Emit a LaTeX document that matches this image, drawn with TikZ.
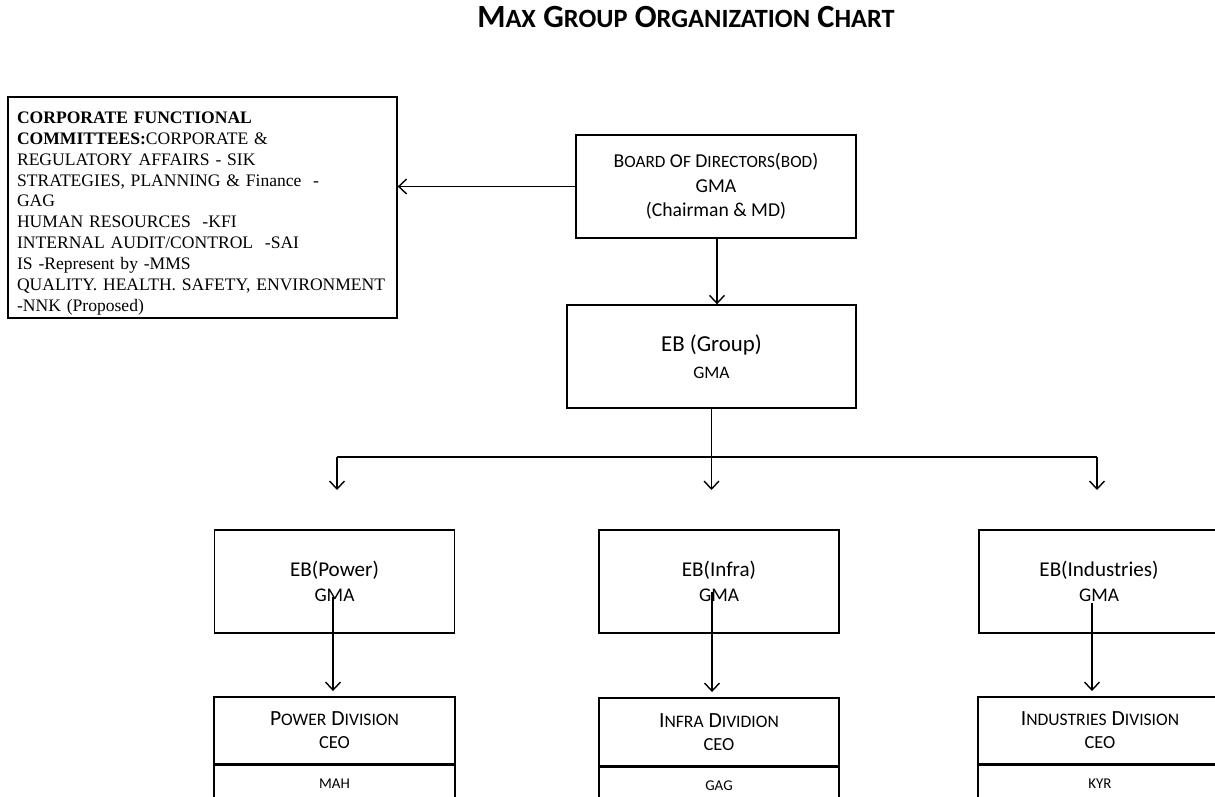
\documentclass[tikz,border=0pt]{standalone}
\usepackage{fontspec}
\setmainfont{Carlito}
\newfontfamily\tnr{Liberation Serif}
\usetikzlibrary{arrows.meta}
\newcommand\smc[2]{{\fontsize{#1}{#1}\selectfont #2}}
\begin{document}
\begin{tikzpicture}[x=0.02cm,y=-0.02cm,
  box/.style={draw,line width=0.8pt,inner sep=0pt,align=center},
  arr/.style={line width=0.8pt,-{Straight Barb[length=4.5pt,width=8.5pt,line width=0.8pt]}},
  ln/.style={line width=0.8pt},
  ebbox/.style={box,minimum width=4.8cm,minimum height=2.06cm,font=\fontsize{12}{14.2}\selectfont},
  divbox/.style={box,minimum width=4.8cm,minimum height=1.34cm,font=\fontsize{12.3}{13}\selectfont},
  namebox/.style={box,minimum width=4.8cm,minimum height=0.72cm,font=\fontsize{8.5}{10}\selectfont}]
\useasboundingbox (0,0) rectangle (1215,797);

% title
\node (title) at (686,17) {\fontsize{18.4}{21}\selectfont\bfseries M\smc{15}{AX} G\smc{15}{ROUP} O\smc{15}{RGANIZATION} C\smc{15}{HART}};

% committees
\node[box,minimum width=7.78cm,minimum height=4.42cm,align=left,text width=7.42cm,
  font={\tnr\fontsize{10}{11.9}\selectfont}] (com) at (202.5,207.5)
 {\rule{0pt}{13.4pt}\textbf{CORPORATE FUNCTIONAL}\\
  \textbf{COMMITTEES:}CORPORATE \&\\
  REGULATORY AFFAIRS - SIK\\
  STRATEGIES, PLANNING \& Finance\ \ -\\
  GAG\\
  HUMAN RESOURCES\ \ -KFI\\
  INTERNAL AUDIT/CONTROL\ \ -SAI\\
  IS -Represent by -MMS\\
  QUALITY. HEALTH. SAFETY, ENVIRONMENT\\
  -NNK (Proposed)};

% board
\node[box,minimum width=5.6cm,minimum height=2.06cm,font=\fontsize{11.2}{14}\selectfont] (bod) at (716,186.5)
 {B\smc{9.8}{OARD} O\smc{9.8}{F} D\smc{9.8}{IRECTORS}(\smc{9.8}{BOD})\\ GMA\\ (Chairman \& MD)};

% EB group
\node[box,minimum width=5.78cm,minimum height=2.06cm,font=\fontsize{13}{15.3}\selectfont] (ebg) at (711.5,356.5)
 {EB (Group)\\ \smc{10}{GMA}};

% EB boxes
\node[ebbox] (ebp) at (334.5,581.5) {EB(Power)\\ \smc{11}{GMA}};
\node[ebbox] (ebi) at (719,581.5) {EB(Infra)\\ \smc{11}{GMA}};
\node[ebbox] (ebn) at (1099,581.5) {EB(Industries)\\ \smc{11}{GMA}};

% division boxes
\node[divbox,minimum width=4.82cm] (pU) at (334.5,730.5) {P\smc{10}{OWER} D\smc{10}{IVISION}\\ \smc{10.5}{CEO}};
\node[namebox,minimum width=4.82cm,anchor=north] (pL) at (pU.south) {MAH};
\node[divbox,minimum height=1.36cm] (iU) at (719,732) {I\smc{10}{NFRA} D\smc{10}{IVIDION}\\ \smc{10.5}{CEO}};
\node[namebox,anchor=north] (iL) at (iU.south) {GAG};
\node[divbox,minimum width=4.88cm] (nU) at (1100,730.5) {I\smc{10}{NDUSTRIES} D\smc{10}{IVISION}\\ \smc{10.5}{CEO}};
\node[namebox,minimum width=4.88cm,anchor=north] (nL) at (nU.south) {KYR};

% connectors
\draw[arr] (bod.west) -- (bod.west -| com.east);
\coordinate (bs) at (717,0);
\draw[arr] (bs |- bod.south) -- (bs |- ebg.north);

\coordinate (busL) at (337,457);
\coordinate (busR) at (1097,457);
\coordinate (busM) at (ebg.south |- busL);
\draw[ln] (ebg.south) -- (busM);
\draw[ln] (busL) -- (busR);
\coordinate (tP) at (337,490);
\coordinate (tI) at (busM |- tP);
\coordinate (tN) at (1097,490);
\draw[arr] (busL) -- (tP);
\draw[arr] (busM) -- (tI);
\draw[arr] (busR) -- (tN);

\coordinate (sP) at (333,597);
\coordinate (sI) at (712,592);
\coordinate (sN) at (1092,603);
\draw[arr,shorten >=3pt] (sP) -- (sP |- pU.north);
\draw[arr,shorten >=3pt] (sI) -- (sI |- iU.north);
\draw[arr,shorten >=3pt] (sN) -- (sN |- nU.north);
\end{tikzpicture}
\end{document}
